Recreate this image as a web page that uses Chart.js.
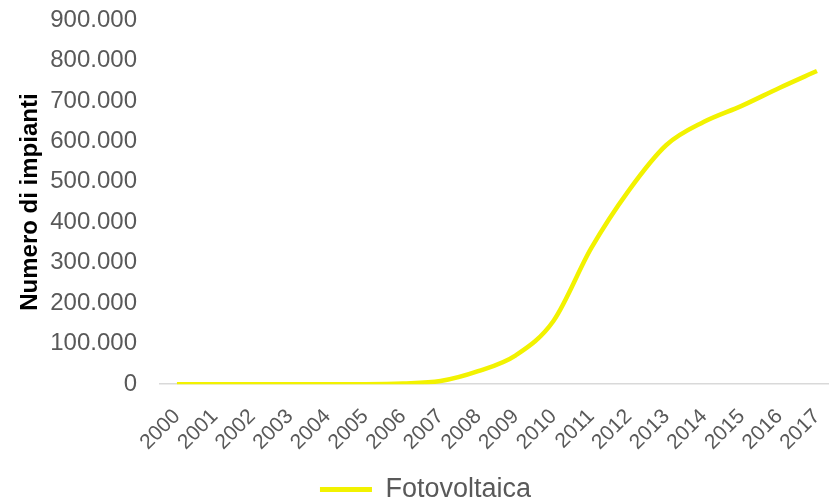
<!DOCTYPE html>
<html>
<head>
<meta charset="utf-8">
<script src="https://cdn.jsdelivr.net/npm/chart.js@4/dist/chart.umd.min.js"></script>
<style>
  html, body { margin: 0; padding: 0; background: #ffffff; }
  #wrap { width: 829px; height: 501px; position: relative; }
</style>
</head>
<body>
<div id="wrap"><canvas id="c" width="829" height="501"></canvas></div>
<script>
const years = ['2000','2001','2002','2003','2004','2005','2006','2007','2008','2009','2010','2011','2012','2013','2014','2015','2016','2017'];
const fotovoltaica = [0, 0, 0, 0, 0, 0, 1400, 7647, 32018, 71284, 155977, 335358, 478331, 591029, 648418, 687759, 732053, 774014];
const seriesName = 'Fotovoltaica';
const yTitle = 'Numero di impianti';
const yMin = 0, yMax = 900000, yStep = 100000;

function fmt(v) { return String(v).replace(/\B(?=(\d{3})+(?!\d))/g, '.'); }

const points = fotovoltaica.map((v, i) => ({ x: i, y: v }));
const yellow = '#f2f200';
const gray = '#595959';

new Chart(document.getElementById('c'), {
  type: 'line',
  data: {
    datasets: [{
      label: seriesName,
      data: points,
      borderColor: yellow,
      backgroundColor: yellow,
      borderWidth: 4.5,
      pointRadius: 0,
      cubicInterpolationMode: 'monotone',
      fill: false
    }]
  },
  options: {
    responsive: false,
    animation: false,
    layout: { autoPadding: false, padding: { top: 20, right: 0, bottom: -12, left: 22 } },
    plugins: {
      tooltip: { enabled: false },
      legend: {
        position: 'bottom',
        labels: {
          color: gray,
          font: { family: 'Liberation Sans, Arial, sans-serif', size: 27 },
          boxWidth: 52,
          boxHeight: 5,
          padding: 2,
          generateLabels(chart) {
            const items = Chart.defaults.plugins.legend.labels.generateLabels(chart);
            items.forEach(it => { it.lineWidth = 0; it.fillStyle = yellow; it.strokeStyle = yellow; });
            return items;
          }
        }
      }
    },
    scales: {
      x: {
        type: 'linear',
        min: -0.45,
        max: 17.32,
        grid: { display: false, drawTicks: false },
        border: { display: true, color: '#d9d9d9', width: 1.5 },
        afterFit(scale) {
          scale.height -= 1;
          scale.paddingTop = 0; scale.paddingBottom = 0;
          scale.paddingLeft = 0; scale.paddingRight = 0;
        },
        ticks: {
          stepSize: 1,
          includeBounds: false,
          autoSkip: false,
          minRotation: 45,
          maxRotation: 45,
          padding: 20,
          color: gray,
          font: { family: 'Liberation Sans, Arial, sans-serif', size: 21 },
          callback: (v) => Number.isInteger(v) && years[v] !== undefined ? years[v] : ''
        }
      },
      y: {
        min: yMin,
        max: yMax,
        grid: { display: false, drawTicks: false },
        border: { display: false },
        afterFit(scale) { scale.width = 138; scale.paddingTop = 0; scale.paddingBottom = 0; },
        ticks: {
          stepSize: yStep,
          padding: 23,
          color: gray,
          font: { family: 'Liberation Sans, Arial, sans-serif', size: 24 },
          callback: (v) => fmt(v)
        },
        title: {
          display: true,
          text: yTitle,
          color: '#000000',
          font: { family: 'Liberation Sans, Arial, sans-serif', size: 24, weight: 'bold' },
          padding: { top: -6, bottom: 0 }
        }
      }
    }
  }
});
</script>
</body>
</html>
